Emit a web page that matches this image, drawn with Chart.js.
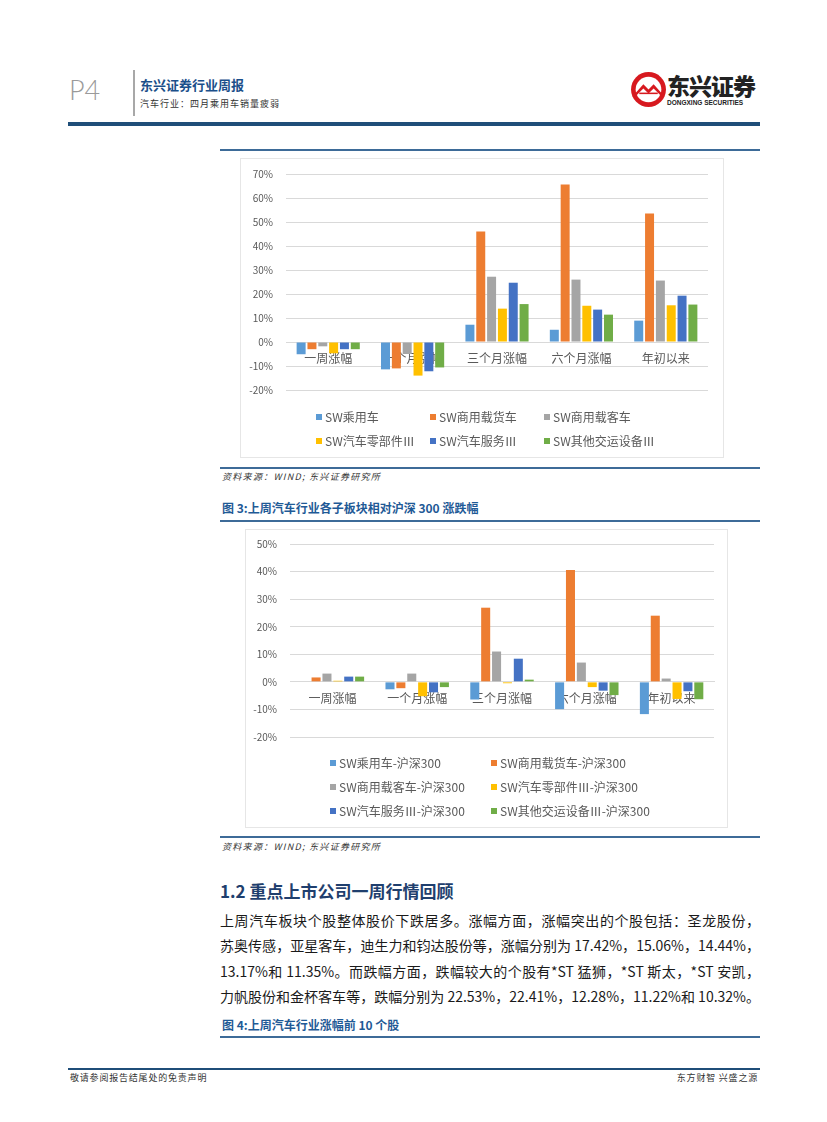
<!DOCTYPE html>
<html>
<head>
<meta charset="utf-8">
<script src="https://cdn.jsdelivr.net/npm/chart.js@4.4.1/dist/chart.umd.min.js"></script>
<style>
body { margin: 0; background: #fff; font-family: "Noto Sans CJK SC", sans-serif; }
#page { position: relative; width: 827px; height: 1122px; overflow: hidden; }
.t { position: absolute; white-space: nowrap; line-height: 1; }
.rule { position: absolute; height: 2px; background: #3d6b98; }
.box { position: absolute; border: 1px solid #e6e6e6; box-sizing: border-box; }
.box canvas { position: absolute; left: -1px; top: -1px; }
.src { font-size: 9px; font-style: italic; color: #333; letter-spacing: 1.3px; }
.cap { font-size: 12px; font-weight: bold; color: #1f5a96; }
.para { position: absolute; left: 220px; top: 908px; width: 540px; font-size: 14px; line-height: 25.4px; color: #1a1a1a; }
.para div { text-align: justify; text-align-last: justify; white-space: nowrap; }
</style>
</head>
<body>
<div id="page">
  <!-- header -->
  <div class="t" style="left:69px;top:76px;font-family:Lato,sans-serif;font-weight:300;font-size:27px;color:#9a9a9a;">P4</div>
  <div style="position:absolute;left:133px;top:70px;width:2px;height:46px;background:#a8a8a8;"></div>
  <div class="t" style="left:140px;top:78px;font-size:13px;font-weight:bold;color:#1b4f8a;">东兴证券行业周报</div>
  <div class="t" style="left:140px;top:99px;font-size:9px;letter-spacing:1px;color:#333;">汽车行业：四月乘用车销量疲弱</div>
  <svg style="position:absolute;left:630px;top:71px;" width="37" height="37" viewBox="0 0 36 36">
    <circle cx="18" cy="18" r="17" fill="#d7191f"/>
    <circle cx="18" cy="18" r="12.5" fill="#fff"/>
    <path d="M5 22 L13 13 L18 18 L23 13 L31 22 L31 25 L23 17 L18 22 L13 17 L5 25 Z" fill="#d7191f"/>
    <rect x="9" y="21" width="18" height="1.5" fill="#d7191f"/>
  </svg>
  <div class="t" style="left:667px;top:74px;font-size:23px;font-weight:900;color:#222;letter-spacing:-1px;">东兴证券</div>
  <div class="t" style="left:667px;top:100px;font-family:'Liberation Sans',sans-serif;font-size:6.5px;font-weight:bold;color:#222;">DONGXING SECURITIES</div>
  <div class="rule" style="left:68px;top:122px;width:692px;height:4px;background:#1f4e79;"></div>

  <!-- figure 2 (continued) -->
  <div class="rule" style="left:220px;top:149px;width:540px;"></div>
  <div class="box" style="left:240px;top:158px;width:484px;height:300px;"><canvas id="c1" width="484" height="300"></canvas></div>
  <div class="rule" style="left:220px;top:467px;width:540px;"></div>
  <div class="t src" style="left:222px;top:472px;">资料来源：WIND; 东兴证券研究所</div>

  <!-- figure 3 -->
  <div class="t cap" style="left:222px;top:502px;">图 3:上周汽车行业各子板块相对沪深 300 涨跌幅</div>
  <div class="rule" style="left:220px;top:520px;width:540px;"></div>
  <div class="box" style="left:245px;top:529px;width:483px;height:299px;"><canvas id="c2" width="483" height="299"></canvas></div>
  <div class="rule" style="left:220px;top:836px;width:540px;"></div>
  <div class="t src" style="left:222px;top:842px;">资料来源：WIND; 东兴证券研究所</div>

  <!-- text section -->
  <div class="t" style="left:220px;top:882px;font-size:17px;font-weight:bold;color:#1f3f6e;">1.2 重点上市公司一周行情回顾</div>
  <div class="para">
    <div>上周汽车板块个股整体股价下跌居多。涨幅方面，涨幅突出的个股包括：圣龙股份，</div>
    <div>苏奥传感，亚星客车，迪生力和钧达股份等，涨幅分别为 17.42%，15.06%，14.44%，</div>
    <div>13.17%和 11.35%。而跌幅方面，跌幅较大的个股有*ST 猛狮，*ST 斯太，*ST 安凯，</div>
    <div>力帆股份和金杯客车等，跌幅分别为 22.53%，22.41%，12.28%，11.22%和 10.32%。</div>
  </div>
  <div class="t cap" style="left:222px;top:1019px;">图 4:上周汽车行业涨幅前 10 个股</div>
  <div class="rule" style="left:220px;top:1036px;width:540px;"></div>

  <!-- footer -->
  <div class="rule" style="left:68px;top:1068px;width:692px;background:#1f4e79;"></div>
  <div class="t" style="left:70px;top:1073px;font-size:9px;letter-spacing:0.8px;color:#333;">敬请参阅报告结尾处的免责声明</div>
  <div class="t" style="right:69px;top:1073px;font-size:9px;letter-spacing:0.8px;color:#333;">东方财智 兴盛之源</div>
</div>

<script>
// categories and series (percent)
const categories = ['一周涨幅', '一个月涨幅', '三个月涨幅', '六个月涨幅', '年初以来'];

const labels1 = ['SW乘用车', 'SW商用载货车', 'SW商用载客车', 'SW汽车零部件Ⅲ', 'SW汽车服务Ⅲ', 'SW其他交运设备Ⅲ'];
const passenger1 = [-5.1, -11.4, 7.2, 5.1, 8.9];
const truck1     = [-3.0, -11.0, 46.0, 65.6, 53.5];
const bus1       = [-1.8, -5.0, 27.2, 26.0, 25.6];
const parts1     = [-4.7, -14.0, 13.9, 15.1, 15.3];
const service1   = [-3.0, -12.2, 24.7, 13.5, 19.3];
const other1     = [-3.0, -10.6, 15.8, 11.4, 15.6];

const labels2 = labels1.map(l => l + '-沪深300');
const passenger2 = [0.0, -2.7, -6.4, -9.9, -11.7];
const truck2     = [1.6, -2.3, 26.9, 40.6, 24.0];
const bus2       = [3.0, 3.0, 11.0, 7.0, 1.2];
const parts2     = [0.4, -5.2, -0.5, -1.9, -6.2];
const service2   = [1.9, -3.8, 8.4, -3.2, -3.4];
const other2     = [1.9, -1.9, 0.8, -4.8, -6.3];

const colors = ['#5B9BD5', '#ED7D31', '#A5A5A5', '#FFC000', '#4472C4', '#70AD47'];

Chart.defaults.font.family = '"Noto Sans CJK SC", sans-serif';
Chart.defaults.color = '#595959';

// legend laid out in fixed columns like the Excel original
const gridLegend = {
  id: 'gridLegend',
  afterDraw(chart, args, opts) {
    const ctx = chart.ctx;
    ctx.save();
    ctx.font = '12px "Noto Sans CJK SC", sans-serif';
    ctx.textBaseline = 'middle';
    chart.data.datasets.forEach((ds, i) => {
      const x = opts.x[i % opts.x.length];
      const y = opts.y[Math.floor(i / opts.x.length)];
      ctx.fillStyle = ds.backgroundColor;
      ctx.fillRect(x, y - 3, 6, 6);
      ctx.fillStyle = '#595959';
      ctx.fillText(ds.label, x + 9, y);
    });
    ctx.restore();
  }
};

function makeChart(id, names, series, yMax, yWidth, pad, legendPos) {
  return new Chart(document.getElementById(id), {
    type: 'bar',
    data: {
      labels: categories,
      datasets: series.map((s, i) => ({
        label: names[i],
        data: s,
        backgroundColor: colors[i],
        categoryPercentage: 0.77,
        barPercentage: 0.83
      }))
    },
    options: {
      responsive: false,
      animation: false,
      layout: { padding: pad },
      plugins: { legend: { display: false }, tooltip: { enabled: false }, gridLegend: legendPos },
      scales: {
        x: {
          position: { y: 0 },
          grid: { display: false },
          border: { color: '#d9d9d9' },
          ticks: { font: { size: 12 }, padding: 1, maxRotation: 0 },
          afterFit(s) { s.height = 0; s.paddingLeft = 0; s.paddingRight = 0; s.paddingTop = 0; s.paddingBottom = 0; }
        },
        y: {
          min: -20,
          max: yMax,
          ticks: { stepSize: 10, font: { size: 10 }, padding: 13, callback: v => v + '%' },
          grid: { color: '#d9d9d9', drawTicks: false },
          border: { display: false },
          afterFit(s) { s.width = yWidth; s.paddingTop = 0; s.paddingBottom = 0; }
        }
      }
    },
    plugins: [gridLegend]
  });
}

makeChart('c1', labels1, [passenger1, truck1, bus1, parts1, service1, other1], 70, 46,
  { left: 0, right: 16, top: 16, bottom: 68 },
  { x: [76, 190, 304], y: [259, 283] });

makeChart('c2', labels2, [passenger2, truck2, bus2, parts2, service2, other2], 50, 45,
  { left: 0, right: 14, top: 15, bottom: 91 },
  { x: [85, 246], y: [234, 258, 282] });
</script>
</body>
</html>
